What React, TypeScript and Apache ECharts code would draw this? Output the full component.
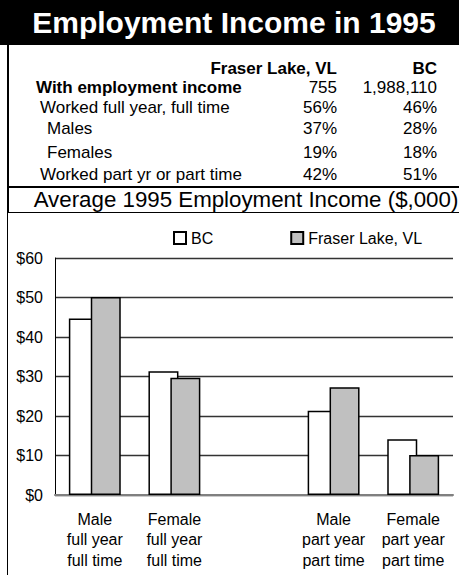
import React, { useEffect, useRef } from "react";
import * as echarts from "echarts";

const title = "Employment Income in 1995";
const subtitle = "Average 1995 Employment Income ($,000)";
const colHeaders = ["Fraser Lake, VL", "BC"];
const tableRows = [
  "With employment income",
  "Worked full year, full time",
  "Males",
  "Females",
  "Worked part yr or part time",
];
const fraserCol = ["755", "56%", "37%", "19%", "42%"];
const bcCol = ["1,988,110", "46%", "28%", "18%", "51%"];

const categories = [
  "Male\nfull year\nfull time",
  "Female\nfull year\nfull time",
  "",
  "Male\npart year\npart time",
  "Female\npart year\npart time",
];
const seriesNames = ["BC", "Fraser Lake, VL"];
const bcValues = [44.7, 31.3, null, 21.3, 14.1];
const fraserValues = [50.1, 29.7, null, 27.3, 10.1];

const FONT = '"Liberation Sans", Arial, sans-serif';

export default function App() {
  const ref = useRef<HTMLDivElement>(null);
  useEffect(() => {
    if (!ref.current) return;
    const chart = echarts.init(ref.current, undefined, { renderer: "svg" });

    const rowY = [87, 107, 128, 152, 174];
    const rowX = [36, 40, 47, 47, 40];
    const graphics: any[] = [
      { type: "rect", shape: { x: 0, y: 0, width: 459, height: 45 }, style: { fill: "#000" } },
      {
        type: "text",
        x: 234,
        y: 22,
        style: {
          text: title,
          fill: "#fff",
          fontSize: 30,
          fontWeight: "bold",
          fontFamily: FONT,
          textAlign: "center",
          textVerticalAlign: "middle",
        },
      },
      { type: "line", shape: { x1: 8, y1: 45, x2: 8, y2: 212 }, style: { stroke: "#000", lineWidth: 2 } },
      { type: "line", shape: { x1: 8, y1: 187, x2: 459, y2: 187 }, style: { stroke: "#000", lineWidth: 2 } },
      { type: "line", shape: { x1: 7, y1: 212.5, x2: 459, y2: 212.5 }, style: { stroke: "#000", lineWidth: 1 } },
      { type: "line", shape: { x1: 7.5, y1: 212, x2: 7.5, y2: 575 }, style: { stroke: "#000", lineWidth: 1 } },
      {
        type: "text",
        x: 337,
        y: 68,
        style: { text: colHeaders[0], fill: "#000", fontSize: 17, fontWeight: "bold", fontFamily: FONT, textAlign: "right", textVerticalAlign: "middle" },
      },
      {
        type: "text",
        x: 437,
        y: 68,
        style: { text: colHeaders[1], fill: "#000", fontSize: 17, fontWeight: "bold", fontFamily: FONT, textAlign: "right", textVerticalAlign: "middle" },
      },
      {
        type: "text",
        x: 246,
        y: 199,
        style: { text: subtitle, fill: "#000", fontSize: 22.3, fontFamily: FONT, textAlign: "center", textVerticalAlign: "middle" },
      },
    ];
    tableRows.forEach((label, i) => {
      const bold = i === 0 ? "bold" : "normal";
      graphics.push(
        {
          type: "text",
          x: rowX[i],
          y: rowY[i],
          style: { text: label, fill: "#000", fontSize: 17, fontWeight: bold, fontFamily: FONT, textAlign: "left", textVerticalAlign: "middle" },
        },
        {
          type: "text",
          x: 337,
          y: rowY[i],
          style: { text: fraserCol[i], fill: "#000", fontSize: 17, fontFamily: FONT, textAlign: "right", textVerticalAlign: "middle" },
        },
        {
          type: "text",
          x: 437,
          y: rowY[i],
          style: { text: bcCol[i], fill: "#000", fontSize: 17, fontFamily: FONT, textAlign: "right", textVerticalAlign: "middle" },
        }
      );
    });

    chart.setOption({
      animation: false,
      backgroundColor: "#fff",
      textStyle: { fontFamily: FONT },
      graphic: graphics,
      legend: {
        left: 168,
        top: 225,
        itemWidth: 12,
        itemHeight: 12,
        itemGap: 77,
        icon: "rect",
        textStyle: { fontSize: 16, color: "#000", fontFamily: FONT },
        data: seriesNames,
      },
      grid: { left: 55, top: 258, width: 398, height: 237 },
      xAxis: {
        type: "category",
        data: categories,
        axisLine: { lineStyle: { color: "#808080", width: 2 } },
        axisTick: { show: false },
        axisLabel: { fontSize: 16, lineHeight: 20.5, color: "#000", margin: 14, interval: 0, fontFamily: FONT },
      },
      yAxis: {
        type: "value",
        min: 0,
        max: 60,
        interval: 10,
        axisLine: { show: true, lineStyle: { color: "#000", width: 1 } },
        axisTick: { show: false },
        axisLabel: { formatter: "${value}", fontSize: 16, color: "#000", margin: 12, fontFamily: FONT },
        splitLine: { lineStyle: { color: "#333", width: 1.3 } },
      },
      series: [
        {
          name: seriesNames[0],
          type: "bar",
          data: bcValues,
          barWidth: 30,
          barGap: "-27%",
          itemStyle: { color: "#fff", borderColor: "#000", borderWidth: 1.5 },
        },
        {
          name: seriesNames[1],
          type: "bar",
          data: fraserValues,
          barWidth: 30,
          barGap: "-27%",
          itemStyle: { color: "#c0c0c0", borderColor: "#000", borderWidth: 1.5 },
        },
      ],
    });
    return () => chart.dispose();
  }, []);
  return (
    <div
      ref={ref}
      style={{ position: "absolute", left: 0, top: 0, width: 459, height: 575 }}
    />
  );
}
